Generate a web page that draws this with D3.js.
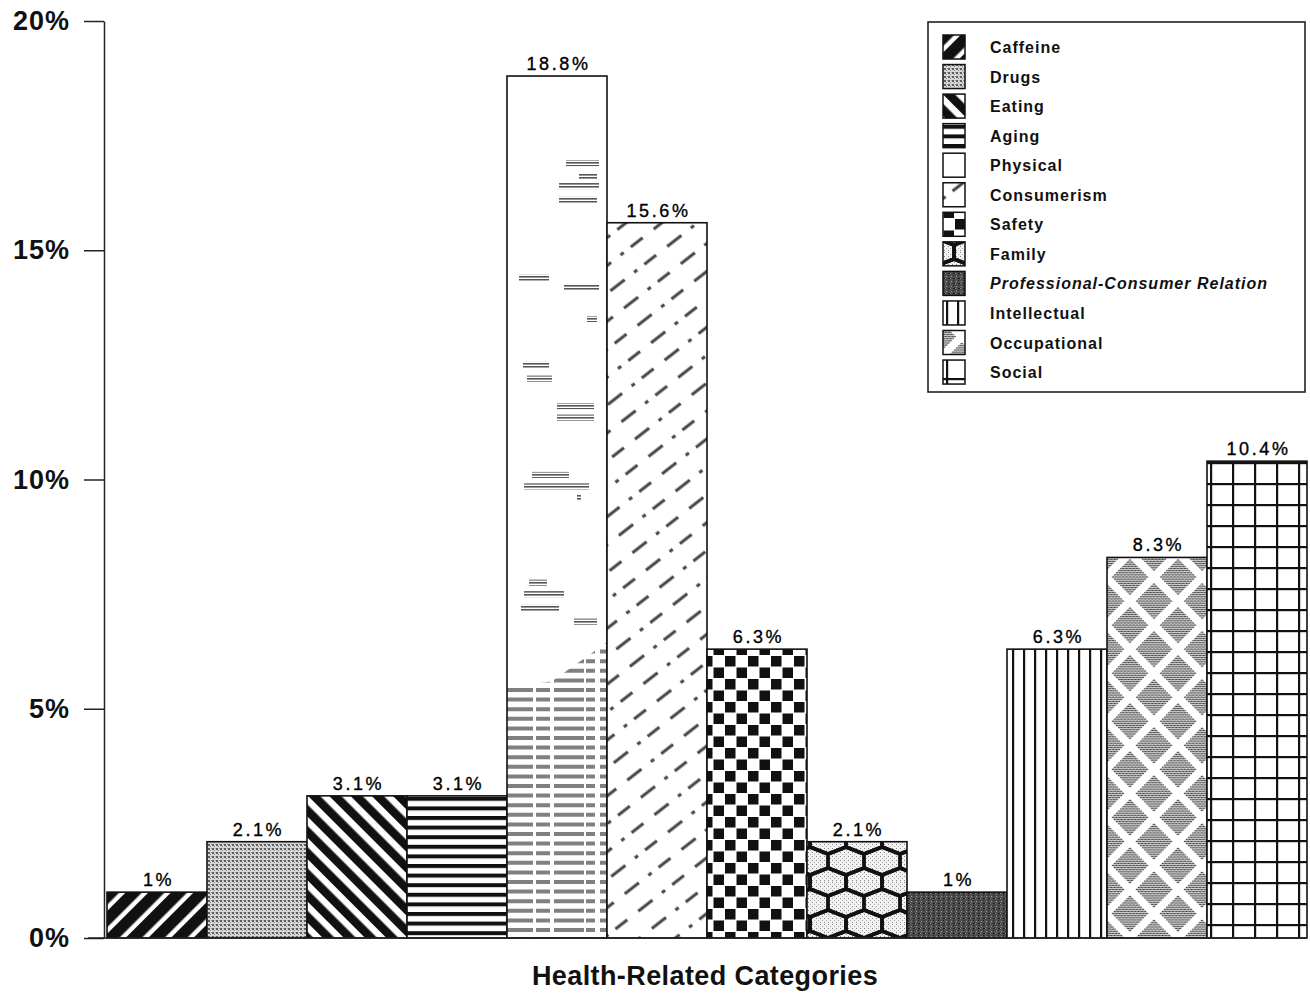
<!DOCTYPE html>
<html>
<head>
<meta charset="utf-8">
<script src="https://cdn.jsdelivr.net/npm/d3@7"></script>
<style>
  html, body { margin: 0; padding: 0; background: #fff; }
  svg { display: block; font-family: "Liberation Sans", Arial, Helvetica, sans-serif; }
</style>
</head>
<body>
<svg id="chart" width="1310" height="997"></svg>
<script>
// Share of health-related mentions by category (percent)
const categories = ["Caffeine", "Drugs", "Eating", "Aging", "Physical", "Consumerism",
  "Safety", "Family", "Professional-Consumer Relation", "Intellectual", "Occupational", "Social"];
const values = [1, 2.1, 3.1, 3.1, 18.8, 15.6, 6.3, 2.1, 1, 6.3, 8.3, 10.4];
const valueLabels = ["1%", "2.1%", "3.1%", "3.1%", "18.8%", "15.6%", "6.3%", "2.1%", "1%", "6.3%", "8.3%", "10.4%"];
const yTicks = [0, 5, 10, 15, 20];
const yTickLabels = ["0%", "5%", "10%", "15%", "20%"];
const xTitle = "Health-Related Categories";

// Fill texture for each category
const fills = ["p-caffeine", "p-drugs", "p-eating", "p-aging", "p-physical", "p-consumer",
  "p-safety", "p-family", "p-prof", "p-intel", "p-occ", "p-social"];

const svg = d3.select("#chart");
const W = 1310, H = 997;

const y = d3.scaleLinear().domain([0, 20]).range([938, 21]);
const x = d3.scaleBand().domain(categories).range([107, 1307]).padding(0);
const bw = x.bandwidth();

const defs = svg.append("defs");
function pat(id, w, h, transform) {
  const p = defs.append("pattern").attr("id", id)
    .attr("patternUnits", "userSpaceOnUse").attr("width", w).attr("height", h);
  if (transform) p.attr("patternTransform", transform);
  return p;
}

// fine stipples used inside other textures
{
  const p = pat("st-light", 4, 4);
  p.append("rect").attr("width", 4).attr("height", 4).attr("fill", "#f2f2f2");
  p.append("rect").attr("x", 0).attr("y", 0).attr("width", 1).attr("height", 1).attr("fill", "#888");
  p.append("rect").attr("x", 2).attr("y", 2).attr("width", 1).attr("height", 1).attr("fill", "#aaa");
}
{
  const p = pat("st-mid", 3, 3);
  p.append("rect").attr("width", 3).attr("height", 3).attr("fill", "#d0d0d0");
  [[0, 0], [2, 1], [1, 2]].forEach(([a, b]) =>
    p.append("rect").attr("x", a).attr("y", b).attr("width", 1).attr("height", 1).attr("fill", "#333"));
}
{
  const p = pat("st-hline", 6, 3);
  p.append("rect").attr("width", 6).attr("height", 3).attr("fill", "#fff");
  p.append("rect").attr("width", 6).attr("height", 1.6).attr("fill", "#555");
}

// Caffeine: thick black "/" stripes
{
  const p = pat("p-caffeine", 16, 16, "rotate(45)");
  p.append("rect").attr("width", 16).attr("height", 16).attr("fill", "#fff");
  p.append("rect").attr("width", 11.5).attr("height", 16).attr("fill", "#111");
}
// Drugs: grey mesh
{
  const p = pat("p-drugs", 4, 4);
  p.append("rect").attr("width", 4).attr("height", 4).attr("fill", "#d6d6d6");
  p.append("rect").attr("width", 2).attr("height", 2).attr("fill", "#5e5e5e");
  p.append("rect").attr("x", 2).attr("y", 2).attr("width", 1).attr("height", 1).attr("fill", "#888");
  p.append("rect").attr("x", 3).attr("y", 0).attr("width", 1).attr("height", 1).attr("fill", "#a5a5a5");
}
// Eating: "\" stripes
{
  const p = pat("p-eating", 15, 15, "rotate(-45)");
  p.append("rect").attr("width", 15).attr("height", 15).attr("fill", "#fff");
  p.append("rect").attr("width", 8.5).attr("height", 15).attr("fill", "#111");
}
// Aging: horizontal lines
{
  const p = pat("p-aging", 10, 9.6);
  p.append("rect").attr("width", 10).attr("height", 9.6).attr("fill", "#fff");
  p.append("rect").attr("width", 10).attr("height", 4).attr("fill", "#111");
}
// Physical: mostly white with scattered grey dashes, grey horizontal hatch near the base
{
  const x0 = x("Physical");
  const p = defs.append("pattern").attr("id", "p-physical")
    .attr("patternUnits", "userSpaceOnUse")
    .attr("x", x0).attr("y", 0).attr("width", bw).attr("height", H);
  p.append("rect").attr("width", bw).attr("height", H).attr("fill", "#fff");
  // scattered dashes: [left offset, right offset, level in %]
  const specks = [[59, 92, 16.9], [72, 90, 16.6], [52, 92, 16.4], [52, 90, 16.1],
    [12, 42, 14.4], [57, 92, 14.2], [80, 90, 13.5], [50, 87, 11.6], [50, 87, 11.35],
    [25, 62, 10.1], [17, 82, 9.85], [70, 74, 9.6], [22, 40, 7.75], [17, 57, 7.5],
    [14, 52, 7.2], [67, 90, 6.9], [16, 42, 12.5], [20, 45, 12.2]];
  specks.forEach(([a, b, v]) =>
    p.append("rect").attr("x", a).attr("y", y(v) - 3).attr("width", b - a).attr("height", 6)
      .attr("fill", "url(#st-hline)"));
  // lower hatched zone with a slanted upper edge
  const edge = [[0, y(5.45)], [bw * 0.45, y(5.6)], [bw, y(6.45)], [bw, y(0)], [0, y(0)]];
  const clip = defs.append("clipPath").attr("id", "clip-phys");
  clip.append("polygon").attr("points", edge.map(d => d.join(",")).join(" "));
  const g = p.append("g").attr("clip-path", "url(#clip-phys)");
  for (let yy = y(6.5); yy < y(0); yy += 9.6) {
    g.append("line").attr("x1", 0).attr("x2", bw).attr("y1", yy + 2).attr("y2", yy + 2)
      .attr("stroke", "#808080").attr("stroke-width", 4)
      .attr("stroke-dasharray", "26 3 14 4 30 2 9 5");
  }
}
// Consumerism: broken diagonal dashes
{
  const p = pat("p-consumer", 22, 72, "rotate(52)");
  p.append("rect").attr("width", 22).attr("height", 72).attr("fill", "#fff");
  p.append("line").attr("x1", 11).attr("x2", 11).attr("y1", 0).attr("y2", 72)
    .attr("stroke", "#444").attr("stroke-width", 3)
    .attr("stroke-dasharray", "15 9 4 12 18 14");
}
// Safety: checkerboard
{
  const p = pat("p-safety", 23, 23);
  p.append("rect").attr("width", 23).attr("height", 23).attr("fill", "#fff");
  p.append("rect").attr("x", 0.5).attr("y", 0.5).attr("width", 10.5).attr("height", 10.5).attr("fill", "#111");
  p.append("rect").attr("x", 12).attr("y", 12).attr("width", 10.5).attr("height", 10.5).attr("fill", "#111");
}
// Family: honeycomb net over light stipple
{
  const cw = 36, rh = 21;
  const p = pat("p-family", cw, rh * 2);
  p.append("rect").attr("width", cw).attr("height", rh * 2).attr("fill", "url(#st-light)");
  const hex = (cx, cy) => {
    const pts = [[cx - cw / 2, cy - 7], [cx, cy - 14], [cx + cw / 2, cy - 7],
      [cx + cw / 2, cy + 7], [cx, cy + 14], [cx - cw / 2, cy + 7]];
    return "M" + pts.map(d => d.join(",")).join("L") + "Z";
  };
  [[0, 0], [cw, 0], [cw / 2, rh], [0, rh * 2], [cw, rh * 2]].forEach(([cx, cy]) =>
    p.append("path").attr("d", hex(cx, cy)).attr("fill", "none")
      .attr("stroke", "#111").attr("stroke-width", 3.8).attr("stroke-linejoin", "round"));
}
// Professional-Consumer Relation: dark grey grain
{
  const p = pat("p-prof", 5, 5);
  p.append("rect").attr("width", 5).attr("height", 5).attr("fill", "#4d4d4d");
  p.append("rect").attr("x", 1).attr("y", 1).attr("width", 1).attr("height", 1).attr("fill", "#9a9a9a");
  p.append("rect").attr("x", 3).attr("y", 3).attr("width", 2).attr("height", 1).attr("fill", "#1a1a1a");
  p.append("rect").attr("x", 0).attr("y", 3).attr("width", 1).attr("height", 1).attr("fill", "#8a8a8a");
  p.append("rect").attr("x", 3).attr("y", 0).attr("width", 1).attr("height", 1).attr("fill", "#222");
}
// Intellectual: vertical lines
{
  const p = pat("p-intel", 11, 10);
  p.append("rect").attr("width", 11).attr("height", 10).attr("fill", "#fff");
  p.append("rect").attr("width", 2.2).attr("height", 10).attr("fill", "#111");
}
// Occupational: grey diamonds on a white lattice
{
  const s = 34;
  const p = pat("p-occ", s, s, "rotate(45)");
  p.append("rect").attr("width", s).attr("height", s).attr("fill", "#fff");
  p.append("rect").attr("x", 4).attr("y", 4).attr("width", s - 8).attr("height", s - 8)
    .attr("fill", "url(#st-mid)");
}
// Social: square grid
{
  const p = pat("p-social", 22, 21);
  p.append("rect").attr("width", 22).attr("height", 21).attr("fill", "#fff");
  p.append("rect").attr("width", 22).attr("height", 2.2).attr("fill", "#111");
  p.append("rect").attr("width", 2.2).attr("height", 21).attr("fill", "#111");
}

// Bars
svg.append("g").selectAll("rect").data(categories).join("rect")
  .attr("x", d => x(d))
  .attr("y", (d, i) => y(values[i]))
  .attr("width", bw)
  .attr("height", (d, i) => y(0) - y(values[i]))
  .attr("fill", (d, i) => `url(#${fills[i]})`)
  .attr("stroke", "#111").attr("stroke-width", 1.6);

// Value labels above bars
svg.append("g").selectAll("text").data(categories).join("text")
  .attr("x", d => x(d) + bw / 2 + 1.5)
  .attr("y", (d, i) => y(values[i]) - 6)
  .attr("text-anchor", "middle")
  .attr("font-size", 18).attr("letter-spacing", 2.6).attr("fill", "#000")
  .attr("stroke", "#000").attr("stroke-width", 0.35)
  .text((d, i) => valueLabels[i]);

// Y axis
const yAxis = d3.axisLeft(y).tickValues(yTicks)
  .tickFormat((d, i) => yTickLabels[i]).tickSize(20).tickSizeOuter(0).tickPadding(14);
const ag = svg.append("g").attr("transform", "translate(104,0)").call(yAxis);
ag.select(".domain").attr("stroke", "#222").attr("stroke-width", 1.5);
ag.selectAll(".tick line").attr("stroke", "#222").attr("stroke-width", 1.5);
ag.selectAll(".tick text").attr("font-size", 27).attr("font-weight", "bold")
  .attr("letter-spacing", 1).attr("fill", "#111")
  .attr("font-family", "\"Liberation Sans\", Arial, sans-serif");

// Baseline
svg.append("line").attr("x1", 88).attr("x2", x.range()[1]).attr("y1", y(0)).attr("y2", y(0))
  .attr("stroke", "#222").attr("stroke-width", 1.6);

// X axis title
svg.append("text").attr("x", 705).attr("y", 985).attr("text-anchor", "middle")
  .attr("font-size", 27).attr("font-weight", "bold").attr("letter-spacing", 0.4)
  .attr("fill", "#111").text(xTitle);

// Legend
const lg = svg.append("g");
lg.append("rect").attr("x", 928).attr("y", 22).attr("width", 377).attr("height", 370)
  .attr("fill", "#fff").attr("stroke", "#222").attr("stroke-width", 1.6);
const rowY = i => 47 + i * 29.55;
const rows = lg.selectAll("g.row").data(categories).join("g").attr("class", "row");
rows.append("rect")
  .attr("x", 943).attr("y", (d, i) => rowY(i) - 12)
  .attr("width", 22).attr("height", 24)
  .attr("fill", (d, i) => `url(#${fills[i]})`)
  .attr("stroke", "#111").attr("stroke-width", 1.5);
rows.append("text")
  .attr("x", 990).attr("y", (d, i) => rowY(i) + 6)
  .attr("font-size", 16).attr("font-weight", "bold").attr("letter-spacing", 1)
  .attr("font-style", d => d.startsWith("Professional") ? "italic" : "normal")
  .attr("fill", "#111").text(d => d);
</script>
</body>
</html>
